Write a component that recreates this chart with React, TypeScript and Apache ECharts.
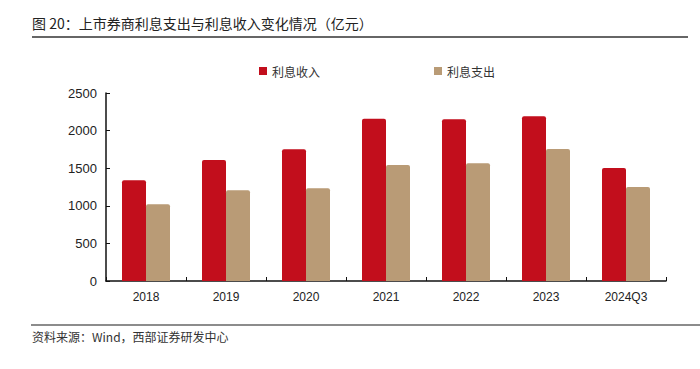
import React, { useEffect, useRef } from "react";
import * as echarts from "echarts";

const categories = ["2018", "2019", "2020", "2021", "2022", "2023", "2024Q3"];
const interestIncome = [1339, 1609, 1751, 2158, 2150, 2190, 1503];
const interestExpense = [1020, 1206, 1233, 1543, 1565, 1755, 1250];
const yTicks = { min: 0, max: 2500, interval: 500 };

const titleText = "图 20：上市券商利息支出与利息收入变化情况（亿元）";
const sourceText = "资料来源：Wind，西部证券研发中心";

export default function App() {
  const ref = useRef<HTMLDivElement>(null);
  useEffect(() => {
    if (!ref.current) return;
    const chart = echarts.init(ref.current, null, { renderer: "svg" });
    const cjk = "'Noto Sans CJK SC', 'Liberation Sans', sans-serif";
    const latin = "'Liberation Sans', Arial, sans-serif";
    chart.setOption({
      animation: false,
      backgroundColor: "#ffffff",
      graphic: [
        {
          type: "text",
          left: 32,
          top: 16,
          style: { text: titleText, font: `14px ${cjk}`, fill: "#222" },
        },
        {
          type: "line",
          shape: { x1: 32, y1: 37, x2: 688, y2: 37 },
          style: { stroke: "#333", lineWidth: 1.5 },
        },
        {
          type: "line",
          shape: { x1: 31, y1: 325, x2: 700, y2: 325 },
          style: { stroke: "#8c8c8c", lineWidth: 2 },
        },
        {
          type: "text",
          left: 32,
          top: 330,
          style: { text: sourceText, font: `12px ${cjk}`, fill: "#333" },
        },
      ],
      legend: {
        left: 254,
        top: 60,
        itemWidth: 8,
        itemHeight: 8,
        itemGap: 114,
        icon: "rect",
        textStyle: { fontSize: 12, fontFamily: cjk, color: "#333" },
        data: ["利息收入", "利息支出"],
      },
      grid: { left: 106, right: 34, top: 93, bottom: 88, containLabel: false },
      xAxis: {
        type: "category",
        data: categories,
        axisLine: { lineStyle: { color: "#111", width: 1.5 } },
        axisTick: { show: true, inside: true, length: 4, lineStyle: { color: "#111" } },
        axisLabel: { fontSize: 12, fontFamily: latin, color: "#222", margin: 10 },
      },
      yAxis: {
        type: "value",
        min: yTicks.min,
        max: yTicks.max,
        interval: yTicks.interval,
        splitLine: { show: false },
        axisLine: { show: true, lineStyle: { color: "#111", width: 1.5 } },
        axisTick: { show: true, inside: true, length: 4, lineStyle: { color: "#111" } },
        axisLabel: {
          fontSize: 13,
          fontFamily: latin,
          color: "#222",
          margin: 9,
          formatter: (v: number) => String(v),
        },
      },
      series: [
        {
          name: "利息收入",
          type: "bar",
          data: interestIncome,
          barWidth: 24,
          barGap: "0%",
          itemStyle: { color: "#C20E1C", borderRadius: [2, 2, 0, 0] },
        },
        {
          name: "利息支出",
          type: "bar",
          data: interestExpense,
          barWidth: 24,
          barGap: "0%",
          itemStyle: { color: "#B99B76", borderRadius: [2, 2, 0, 0] },
        },
      ],
    });
    return () => chart.dispose();
  }, []);
  return (
    <div
      ref={ref}
      style={{ position: "fixed", left: 0, top: 0, width: 700, height: 369 }}
    />
  );
}
